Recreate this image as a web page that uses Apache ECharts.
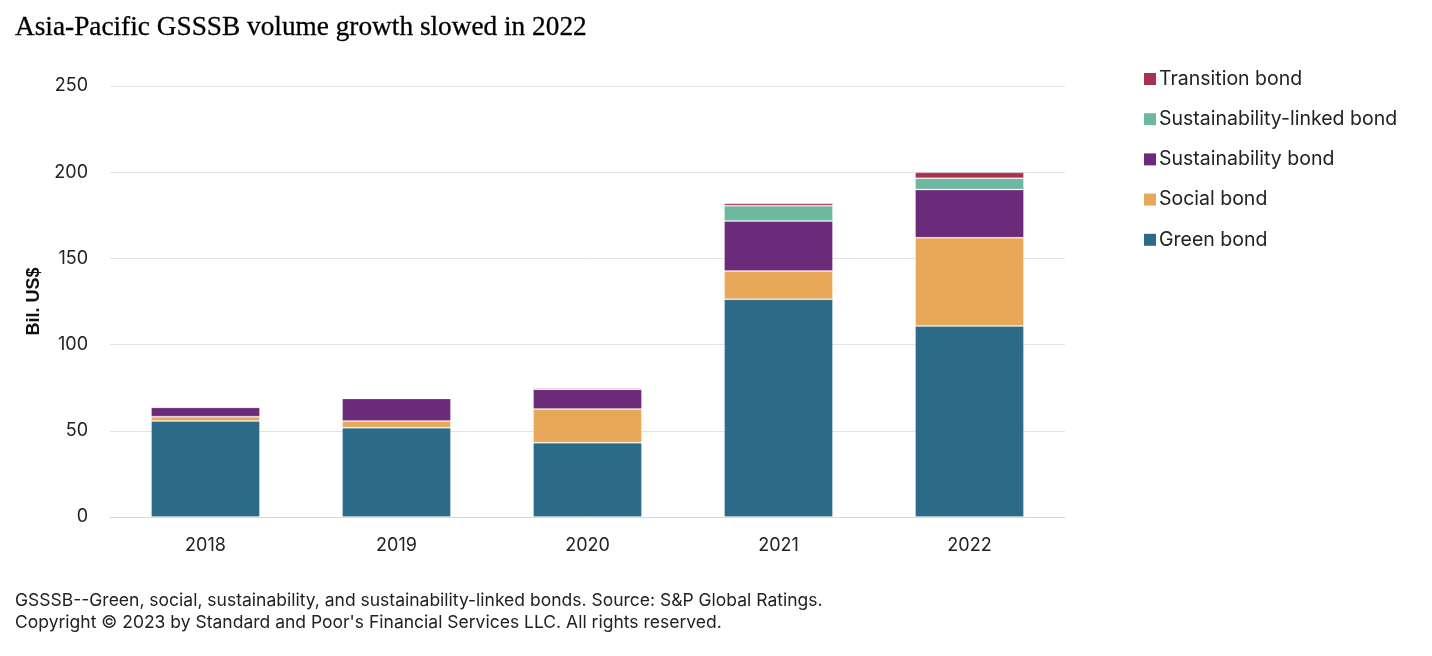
<!DOCTYPE html>
<html><head><meta charset="utf-8">
<script src="https://cdn.jsdelivr.net/npm/echarts@6/dist/echarts.min.js"></script>
<style>html,body{margin:0;padding:0;background:#fff;}#c{width:1432px;height:656px;}</style>
</head><body><div id="c"></div>
<script>
const years = ['2018','2019','2020','2021','2022'];
const greenBond = [55.7, 51.8, 43.1, 126.3, 110.8];
const socialBond = [2.5, 3.9, 19.5, 16.4, 51.2];
const sustainabilityBond = [5.4, 13.1, 11.5, 29.0, 27.9];
const sustainabilityLinkedBond = [0, 0, 0, 8.9, 6.6];
const transitionBond = [0, 0, 0.7, 1.4, 3.4];
const yTicks = [0, 50, 100, 150, 200, 250];

const seriesDefs = [
  ['Green bond', greenBond, '#2c6b87'],
  ['Social bond', socialBond, '#e8a85a'],
  ['Sustainability bond', sustainabilityBond, '#6c2a7a'],
  ['Sustainability-linked bond', sustainabilityLinkedBond, '#6fb8a0'],
  ['Transition bond', transitionBond, '#a8324f']
];
const chart = echarts.init(document.getElementById('c'));
const font = 'Inter, Roboto, sans-serif';
chart.setOption({
  animation: false,
  title: [{
    text: 'Asia-Pacific GSSSB volume growth slowed in 2022',
    left: 15, top: 14, padding: 0,
    textStyle: {fontFamily: 'Liberation Serif, serif', fontSize: 27.3, fontWeight: 'normal', color: '#000',
      textBorderColor: '#000', textBorderWidth: 0.3}
  }, {
    text: 'GSSSB--Green, social, sustainability, and sustainability-linked bonds. Source: S&P Global Ratings.\nCopyright © 2023 by Standard and Poor\'s Financial Services LLC. All rights reserved.',
    left: 15, top: 590, padding: 0,
    textStyle: {fontFamily: font, fontSize: 17.5, fontWeight: 'normal', color: '#222', lineHeight: 22}
  }],
  legend: {
    orient: 'vertical', left: 1139, top: 64,
    data: seriesDefs.map(d => d[0]).reverse(),
    icon: 'rect', itemWidth: 12, itemHeight: 12, itemGap: 20.2, itemStyle: {borderWidth: 0},
    textStyle: {fontFamily: font, fontSize: 19.5, color: '#222', padding: [0, 0, 0, -2]}
  },
  grid: {left: 110, right: 367, top: 86, bottom: 139},
  xAxis: {
    type: 'category', data: years,
    axisLine: {lineStyle: {color: '#d9d9d9', width: 1}},
    axisTick: {show: false},
    axisLabel: {fontFamily: font, fontSize: 18, color: '#222', margin: 20}
  },
  yAxis: {
    type: 'value', min: 0, max: 250, interval: 50,
    name: 'Bil. US$', nameLocation: 'middle', nameGap: 65, nameRotate: 90,
    nameTextStyle: {fontFamily: 'Liberation Sans, Arial, sans-serif', fontSize: 18, fontWeight: 'bold', color: '#111'},
    axisLine: {show: false}, axisTick: {show: false},
    axisLabel: {fontFamily: font, fontSize: 18, color: '#222', margin: 22,
      formatter: v => yTicks.includes(v) ? String(v) : ''},
    splitLine: {lineStyle: {color: '#e3e3e3', width: 1}}
  },
  series: seriesDefs.map(d => ({
    name: d[0], type: 'bar', stack: 'total', data: d[1], barWidth: '57%',
    itemStyle: {color: d[2], borderColor: 'rgba(255,255,255,0.2)', borderWidth: 1}
  }))
});
</script></body></html>
